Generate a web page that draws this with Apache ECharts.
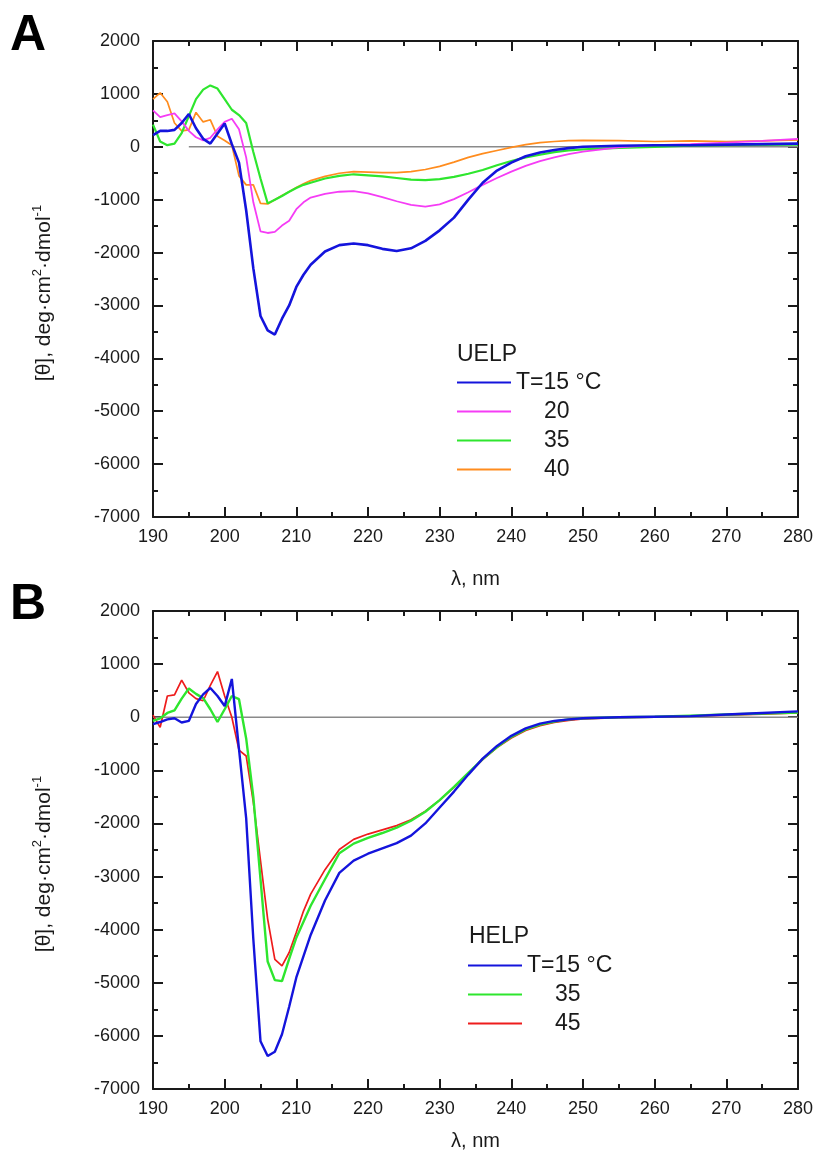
<!DOCTYPE html>
<html>
<head>
<meta charset="utf-8">
<script src="https://cdn.jsdelivr.net/npm/echarts@6/dist/echarts.min.js"></script>
<style>
  html, body { margin: 0; padding: 0; background: #ffffff; }
  #chart { width: 816px; height: 1154px; }
</style>
</head>
<body>
<div id="chart"></div>
<script>
// Wavelength grid (nm): 1 nm steps in the far-UV region, coarser further out
const wavelengths = [
  190, 191, 192, 193, 194, 195, 196, 197, 198, 199, 200, 201, 202, 203, 204, 205, 206, 207, 208, 209, 210, 211, 212,
  214, 216, 218, 220, 222, 224, 226, 228, 230, 232, 234, 236, 238, 240, 242, 244, 246, 248, 250,
  255, 260, 265, 270, 275, 280
];

// Panel A: UELP mean residue ellipticity at each temperature
const uelp15 = [
  220, 300, 300, 320, 450, 620, 350, 150, 60, 250, 440, 50, -300, -1200, -2300, -3200, -3470, -3550, -3250, -3000, -2650, -2420, -2230,
  -1980, -1860, -1830, -1860, -1930, -1970, -1920, -1780, -1580, -1340, -1000, -680, -450, -300, -180, -110, -60, -25, 0,
  20, 30, 30, 40, 50, 60
];
const uelp20 = [
  690, 560, 600, 630, 480, 300, 180, 120, 170, 330, 470, 530, 330, -200, -1050, -1600, -1630, -1610, -1490, -1400, -1180, -1050, -960,
  -890, -850, -840, -880, -950, -1030, -1100, -1130, -1090, -990, -860, -720, -590, -470, -360, -270, -200, -140, -90,
  -10, 30, 50, 80, 110, 150
];
const uelp35 = [
  420, 100, 30, 60, 260, 580, 900, 1080, 1160, 1100, 900, 700, 600, 450, -100, -600, -1070, -1000, -930, -850, -780, -720, -680,
  -600, -550, -520, -540, -560, -590, -620, -630, -610, -570, -510, -440, -350, -270, -200, -150, -100, -70, -50,
  -20, 0, 20, 30, 35, 40
];
const uelp40 = [
  900, 1020, 850, 450, 300, 320, 650, 470, 510, 200, 120, 30, -550, -720, -720, -1070, -1080, -1000, -920, -850, -770, -700, -640,
  -560, -500, -470, -480, -490, -490, -470, -430, -370, -290, -200, -130, -70, -10, 40, 80, 100, 115, 120,
  115, 100, 110, 100, 110, 130
];

// Panel B: HELP mean residue ellipticity at each temperature
const help15 = [
  -130, -90, -40, -20, -100, -70, 250, 430, 550, 400, 210, 720, -600, -1900, -4180, -6100, -6380, -6300, -5970, -5450, -4900, -4500, -4100,
  -3450, -2930, -2700, -2570, -2470, -2370, -2230, -2000, -1700, -1400, -1080, -780, -540, -350, -210, -120, -70, -40, -20,
  0, 10, 20, 50, 80, 110
];
const help35 = [
  -70, -20, 80, 130, 350, 540, 440, 360, 150, -90, 150, 400, 340, -400, -1500, -3050, -4600, -4950, -4970, -4550, -4150, -3850, -3550,
  -3050, -2560, -2380, -2270, -2180, -2080, -1950, -1780, -1560, -1310, -1050, -790, -560, -370, -230, -140, -80, -40, -20,
  0, 10, 30, 50, 70, 90
];
const help45 = [
  40, -190, 400, 420, 700, 460, 350, 310, 600, 860, 400, 0, -620, -730, -1600, -2700, -3800, -4560, -4680, -4430, -4050, -3650, -3330,
  -2870, -2490, -2300, -2200, -2120, -2040, -1930, -1770, -1560, -1320, -1060, -800, -570, -390, -250, -160, -100, -60, -30,
  -10, 0, 20, 40, 60, 80
];

// Legend texts
const uelpLabels = ['T=15 °C', '20', '35', '40'];
const helpLabels = ['T=15 °C', '35', '45'];

// Zero baselines (start and end wavelength)
const zeroLineA = [195, 280];
const zeroLineB = [190, 280];

// Axis ranges and tick steps
const xRange = [190, 280];
const xStep = 10;
const yRange = [-7000, 2000];
const yStep = 1000;

const FONT = '"Liberation Sans", Arial, Helvetica, sans-serif';
const INK = '#1a1a1a';

const panels = [
  {
    title: 'UELP', grid: 0, zero: zeroLineA, labels: uelpLabels,
    values: [uelp15, uelp20, uelp35, uelp40],
    colors: ['#1414dc', '#f53cf5', '#2ee62e', '#ff8c1e'],
    widths: [2.6, 1.8, 2.2, 1.7]
  },
  {
    title: 'HELP', grid: 1, zero: zeroLineB, labels: helpLabels,
    values: [help15, help35, help45],
    colors: ['#1414dc', '#2ee62e', '#ee1c1c'],
    widths: [2.4, 2.4, 1.7]
  }
];

const gridBoxes = [
  { left: 153, right: 18, top: 41, height: 476 },
  { left: 153, right: 18, top: 611, height: 478 }
];
const xNameGaps = [52, 42];

function xAxisFor(gridIndex, position, showLabels) {
  return {
    type: 'value', gridIndex, position,
    min: xRange[0], max: xRange[1], interval: xStep,
    name: showLabels ? 'λ, nm' : '',
    nameLocation: 'middle', nameGap: xNameGaps[gridIndex],
    nameTextStyle: { fontFamily: FONT, fontSize: 20, color: INK },
    axisLine: { show: true, onZero: false, lineStyle: { color: INK, width: 2 } },
    axisTick: { show: true, inside: true, length: 10, lineStyle: { color: INK, width: 2 } },
    minorTick: { show: true, splitNumber: 2, length: 5, lineStyle: { color: INK, width: 2 } },
    axisLabel: { show: showLabels, margin: 11, fontFamily: FONT, fontSize: 18, color: INK,
                 showMinLabel: true, showMaxLabel: true, formatter: (v) => String(v) },
    splitLine: { show: false },
    minorSplitLine: { show: false }
  };
}

function yAxisFor(gridIndex, position, showLabels) {
  return {
    type: 'value', gridIndex, position,
    min: yRange[0], max: yRange[1], interval: yStep,
    name: showLabels ? '{n|[θ], deg·cm}{s|2}{n|·dmol}{s|-1}' : '',
    nameLocation: 'middle', nameGap: 96,
    nameTextStyle: {
      padding: [0, 28, 0, 0],
      rich: {
        n: { fontFamily: FONT, fontSize: 21, color: INK, lineHeight: 26 },
        s: { fontFamily: FONT, fontSize: 13, color: INK, lineHeight: 13, verticalAlign: 'top' }
      }
    },
    axisLine: { show: true, onZero: false, lineStyle: { color: INK, width: 2 } },
    axisTick: { show: true, inside: true, length: 10, lineStyle: { color: INK, width: 2 } },
    minorTick: { show: true, splitNumber: 2, length: 5, lineStyle: { color: INK, width: 2 } },
    axisLabel: { show: showLabels, margin: 13, fontFamily: FONT, fontSize: 18, color: INK,
                 showMinLabel: true, showMaxLabel: true, formatter: (v) => String(v) },
    splitLine: { show: false },
    minorSplitLine: { show: false }
  };
}

const xAxes = [];
const yAxes = [];
gridBoxes.forEach((g, gi) => {
  xAxes.push(xAxisFor(gi, 'bottom', true));
  xAxes.push(xAxisFor(gi, 'top', false));
  yAxes.push(yAxisFor(gi, 'left', true));
  yAxes.push(yAxisFor(gi, 'right', false));
});

const series = [];
const legendText = {};
const legends = [];

panels.forEach((p) => {
  const xi = p.grid * 2;
  const yi = p.grid * 2;
  // grey zero baseline
  series.push({
    type: 'line', name: p.title + ' baseline', xAxisIndex: xi, yAxisIndex: yi,
    data: [[p.zero[0], 0], [p.zero[1], 0]],
    showSymbol: false, silent: true, z: 1,
    lineStyle: { color: '#8a8a8a', width: 1.5 }
  });
  const names = [];
  p.values.forEach((vals, k) => {
    const name = p.title + ' ' + p.labels[k];
    names.push(name);
    legendText[name] = k === 0 ? '{t|' + p.labels[k] + '}' : '{i|}{t|' + p.labels[k] + '}';
    series.push({
      type: 'line', name, xAxisIndex: xi, yAxisIndex: yi,
      data: wavelengths.map((w, i) => [w, vals[i]]),
      showSymbol: false, smooth: false, z: 3 + (p.values.length - k),
      color: p.colors[k],
      lineStyle: { color: p.colors[k], width: p.widths[k] }
    });
  });
  legends.push({ names });
});

const legendBoxes = [
  { left: 457, top: 371 },
  { left: 468, top: 954 }
];

const legendOpts = legends.map((l, i) => ({
  data: l.names,
  orient: 'vertical',
  left: legendBoxes[i].left, top: legendBoxes[i].top,
  padding: 0,
  itemWidth: 54, itemHeight: 14, itemGap: 6,
  selectedMode: false,
  icon: 'path://M0,6 L54,6 L54,8 L0,8 Z',
  formatter: (name) => legendText[name],
  textStyle: {
    rich: {
      t: { fontFamily: FONT, fontSize: 23, color: INK, lineHeight: 23 },
      i: { width: 28, fontSize: 23, lineHeight: 23 }
    }
  }
}));

const chart = echarts.init(document.getElementById('chart'), null, { renderer: 'canvas' });
chart.setOption({
  animation: false,
  backgroundColor: '#ffffff',
  grid: gridBoxes.map(g => Object.assign({ containLabel: false, outerBoundsMode: 'none' }, g)),
  xAxis: xAxes,
  yAxis: yAxes,
  legend: legendOpts,
  series,
  graphic: [
    { type: 'text', x: 10, y: 36, style: { text: 'A', fontFamily: FONT, fontSize: 50, fontWeight: 'bold', fill: '#000', verticalAlign: 'middle' } },
    { type: 'text', x: 10, y: 605, style: { text: 'B', fontFamily: FONT, fontSize: 50, fontWeight: 'bold', fill: '#000', verticalAlign: 'middle' } },
    { type: 'text', x: 457, y: 355, style: { text: 'UELP', fontFamily: FONT, fontSize: 23, fill: INK, verticalAlign: 'middle' } },
    { type: 'text', x: 469, y: 937, style: { text: 'HELP', fontFamily: FONT, fontSize: 23, fill: INK, verticalAlign: 'middle' } }
  ]
});
</script>
</body>
</html>
